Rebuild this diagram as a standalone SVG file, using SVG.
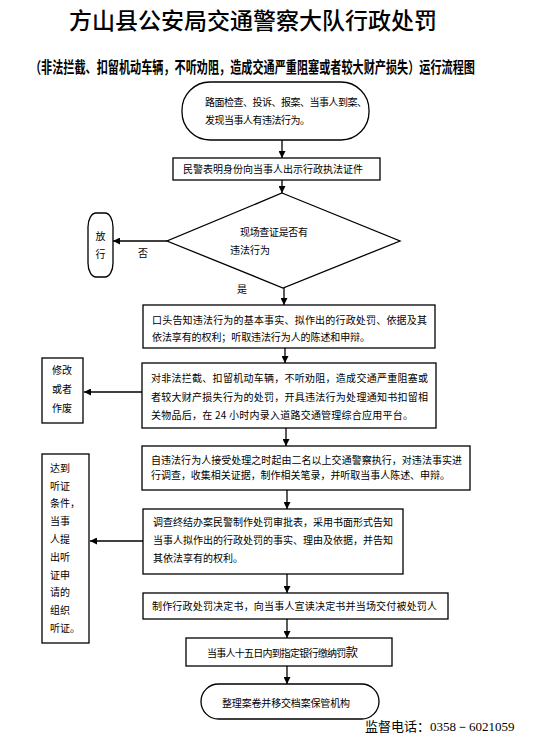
<svg xmlns="http://www.w3.org/2000/svg" width="558" height="738" viewBox="0 0 558 738">
<defs>
<style>
.t{font-family:"Noto Sans CJK SC","Noto Sans",sans-serif;font-size:10px;fill:#000}
.box{fill:#fff;stroke:#000;stroke-width:1.3}
.ln{stroke:#000;stroke-width:1.3;fill:none}
</style>
<marker id="ah" viewBox="0 0 10 10" refX="10" refY="5" markerWidth="7" markerHeight="7" markerUnits="userSpaceOnUse" orient="auto">
<path d="M0,0 L10,5 L0,10 z" fill="#000"/>
</marker>
</defs>
<rect width="558" height="738" fill="#fff"/>
<g id="title">
<text x="253" y="29" text-anchor="middle" font-family="Noto Sans CJK SC, sans-serif" font-size="23" font-weight="500">方山县公安局交通警察大队行政处罚</text>
<text transform="translate(30,73) scale(0.718,1)" x="0" y="0" font-family="Noto Sans CJK SC, sans-serif" font-size="15.5" font-weight="bold">（非法拦截、扣留机动车辆，不听劝阻，造成交通严重阻塞或者较大财产损失）运行流程图</text>
</g>
<g id="connectors">
<line class="ln" x1="282" y1="140" x2="282" y2="158" marker-end="url(#ah)"/>
<line class="ln" x1="282" y1="180" x2="282" y2="193" marker-end="url(#ah)"/>
<line class="ln" x1="167" y1="241" x2="113" y2="241" marker-end="url(#ah)"/>
<line class="ln" x1="284" y1="288" x2="284" y2="305" marker-end="url(#ah)"/>
<line class="ln" x1="285" y1="348" x2="285" y2="363" marker-end="url(#ah)"/>
<line class="ln" x1="142" y1="392" x2="84" y2="392" marker-end="url(#ah)"/>
<line class="ln" x1="286" y1="428" x2="286" y2="446" marker-end="url(#ah)"/>
<line class="ln" x1="287" y1="490" x2="287" y2="509" marker-end="url(#ah)"/>
<line class="ln" x1="143" y1="541" x2="90" y2="541" marker-end="url(#ah)"/>
<line class="ln" x1="287" y1="574" x2="287" y2="593" marker-end="url(#ah)"/>
<line class="ln" x1="287" y1="619" x2="287" y2="638" marker-end="url(#ah)"/>
<line class="ln" x1="287" y1="666" x2="287" y2="684" marker-end="url(#ah)"/>
<text class="t" x="138" y="257">否</text>
<text class="t" x="237" y="293">是</text>
</g>
<g id="start">
<rect class="box" x="182" y="82" width="187" height="58" rx="28" ry="28"/>
<text class="t" x="205" y="106" textLength="162">路面检查、投诉、报案、当事人到案、</text>
<text class="t" x="205" y="124" textLength="105">发现当事人有违法行为。</text>
</g>
<g id="show-id">
<rect class="box" x="173" y="158" width="207" height="22"/>
<text class="t" x="183" y="173" textLength="180">民警表明身份向当事人出示行政执法证件</text>
</g>
<g id="decision">
<polygon class="box" points="282,193 400,241 283,288 167,241"/>
<text class="t" x="240" y="236" textLength="68">现场查证是否有</text>
<text class="t" x="230" y="254">违法行为</text>
</g>
<g id="release">
<rect class="box" x="88" y="213" width="25" height="64" rx="8" ry="14"/>
<text class="t" x="100.5" y="240" text-anchor="middle">放</text>
<text class="t" x="100.5" y="258" text-anchor="middle">行</text>
</g>
<g id="notify">
<rect class="box" x="143" y="305" width="292" height="43"/>
<text class="t" x="152" y="324" textLength="275">口头告知违法行为的基本事实、拟作出的行政处罚、依据及其</text>
<text class="t" x="152" y="341" textLength="218">依法享有的权利；听取违法行为人的陈述和申辩。</text>
</g>
<g id="detain">
<rect class="box" x="142" y="363" width="294" height="65"/>
<text class="t" x="151" y="382" textLength="277">对非法拦截、扣留机动车辆，不听劝阻，造成交通严重阻塞或</text>
<text class="t" x="151" y="401" textLength="277">者较大财产损失行为的处罚，开具违法行为处理通知书扣留相</text>
<text class="t" x="151" y="419" textLength="262">关物品后，在 24 小时内录入道路交通管理综合应用平台。</text>
</g>
<g id="modify">
<rect class="box" x="42" y="358" width="41" height="65"/>
<text class="t" x="62" y="374" text-anchor="middle">修改</text>
<text class="t" x="62" y="393" text-anchor="middle">或者</text>
<text class="t" x="62" y="412" text-anchor="middle">作废</text>
</g>
<g id="investigate">
<rect class="box" x="142" y="446" width="328" height="44"/>
<text class="t" x="151" y="464" textLength="311">自违法行为人接受处理之时起由二名以上交通警察执行，对违法事实进</text>
<text class="t" x="151" y="479" textLength="299">行调查，收集相关证据，制作相关笔录，并听取当事人陈述、申辩。</text>
</g>
<g id="approval">
<rect class="box" x="143" y="509" width="260" height="65"/>
<text class="t" x="153" y="526" textLength="240">调查终结办案民警制作处罚审批表，采用书面形式告知</text>
<text class="t" x="153" y="544" textLength="240">当事人拟作出的行政处罚的事实、理由及依据，并告知</text>
<text class="t" x="153" y="562" textLength="90">其依法享有的权利。</text>
</g>
<g id="hearing">
<rect class="box" x="42" y="454" width="47" height="189"/>
<text class="t" x="50" y="472">达到</text>
<text class="t" x="50" y="490">听证</text>
<text class="t" x="50" y="507">条件，</text>
<text class="t" x="50" y="525">当事</text>
<text class="t" x="50" y="543">人提</text>
<text class="t" x="50" y="561">出听</text>
<text class="t" x="50" y="579">证申</text>
<text class="t" x="50" y="596">请的</text>
<text class="t" x="50" y="614">组织</text>
<text class="t" x="50" y="632">听证。</text>
</g>
<g id="decision-doc">
<rect class="box" x="143" y="593" width="305" height="26"/>
<text class="t" x="152" y="610" textLength="285">制作行政处罚决定书，向当事人宣读决定书并当场交付被处罚人</text>
</g>
<g id="payment">
<rect class="box" x="186" y="638" width="206" height="28"/>
<text class="t" x="207" y="657" textLength="151">当事人十五日内到指定银行缴纳罚<tspan font-size="12.5">款</tspan></text>
</g>
<g id="archive">
<rect class="box" x="201" y="684" width="178" height="35" rx="17.5" ry="17.5"/>
<text class="t" x="222" y="707" textLength="128">整理案卷并移交档案保管机构</text>
</g>
<g id="footer">
<text x="365" y="731" font-family="Noto Sans CJK SC, sans-serif" font-size="13">监督电话：<tspan font-family="Liberation Serif, serif" font-size="13">0358－6021059</tspan></text>
</g>
</svg>
